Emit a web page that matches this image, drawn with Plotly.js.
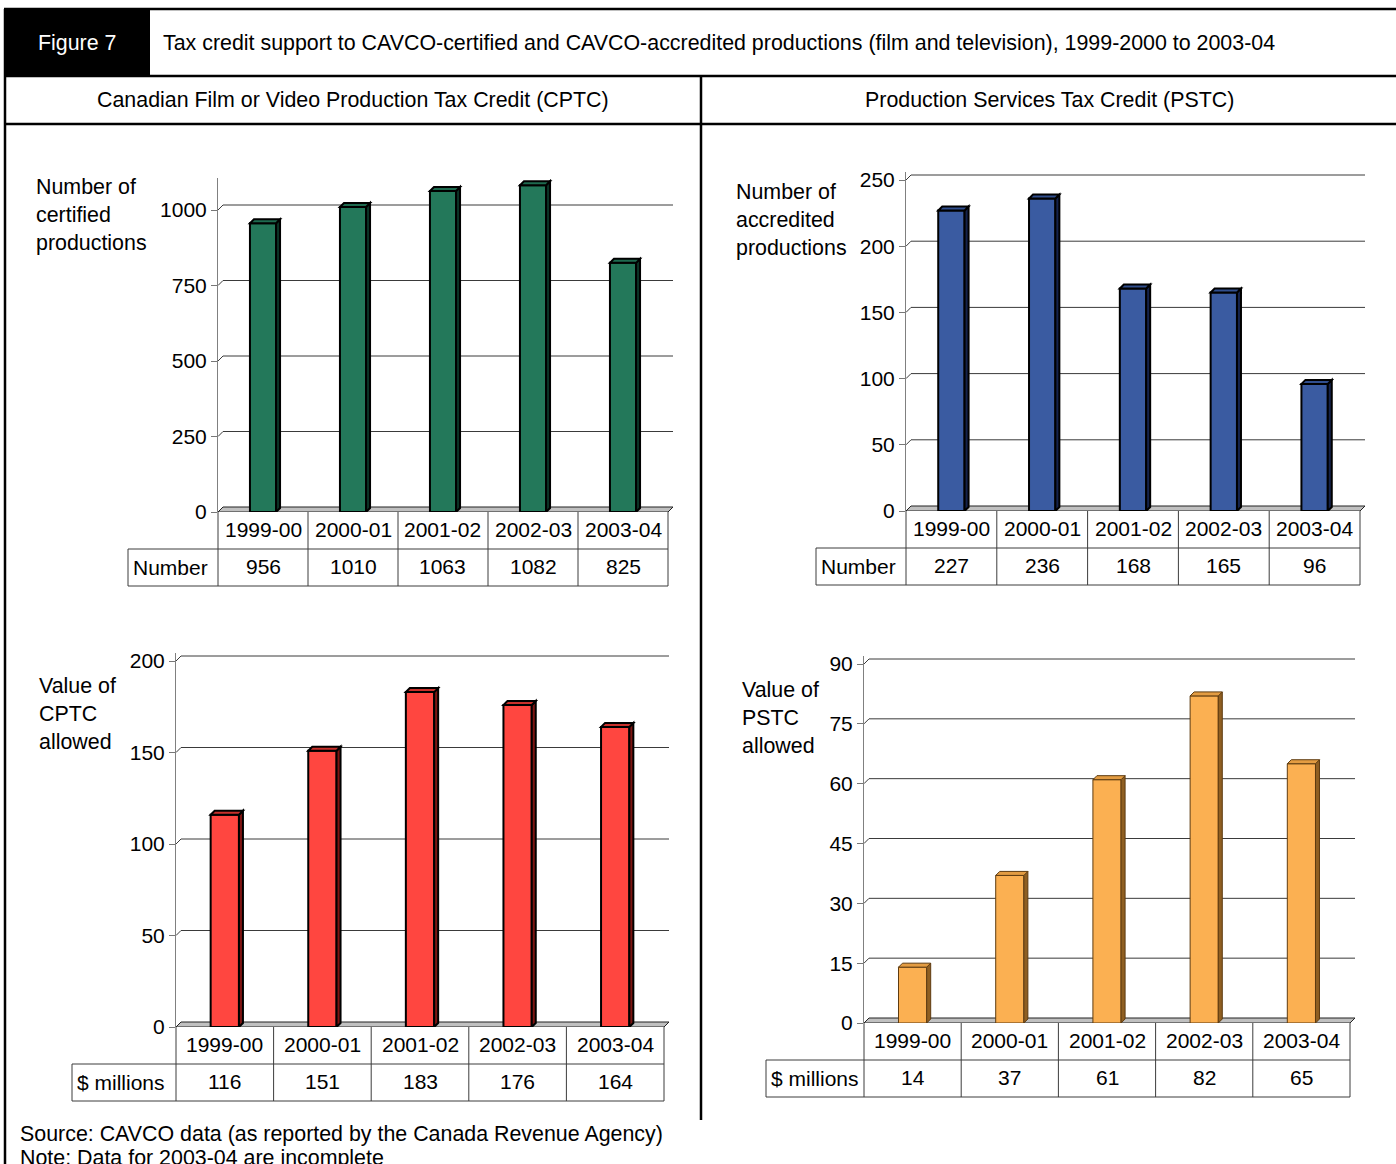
<!DOCTYPE html>
<html>
<head>
<meta charset="utf-8">
<script src="https://cdn.plot.ly/plotly-3.0.1.min.js"></script>
<style>
  html, body { margin: 0; padding: 0; background: #fff; }
  #chart { width: 1396px; height: 1164px; }
</style>
</head>
<body>
<div id="chart"></div>
<script>
// Fiscal years shown on every panel
const categories = ['1999-00', '2000-01', '2001-02', '2002-03', '2003-04'];

// CPTC: number of certified productions
const cptcCount = [956, 1010, 1063, 1082, 825];
// PSTC: number of accredited productions
const pstcCount = [227, 236, 168, 165, 96];
// CPTC: value allowed ($ millions)
const cptcValue = [116, 151, 183, 176, 164];
// PSTC: value allowed ($ millions)
const pstcValue = [14, 37, 61, 82, 65];

// Y-axis tick labels per panel
const cptcCountTicks = [0, 250, 500, 750, 1000];
const pstcCountTicks = [0, 50, 100, 150, 200, 250];
const cptcValueTicks = [0, 50, 100, 150, 200];
const pstcValueTicks = [0, 15, 30, 45, 60, 75, 90];

const W = 1396, H = 1164;
const px = p => p / W;
const py = p => 1 - p / H;
const FONT = 'Liberation Sans, Arial, Helvetica, sans-serif';
const FS = 21;
const FS_LONG = 21.4;

// Panel geometry (pixels): zeroY / refY give the front-plane scale,
// topY is the top of the value axis.
const panels = [
  { values: cptcCount, ticks: cptcCountTicks, refVal: 1000, refY: 210,
    axisX: 218, tableR: 668, zeroY: 512, topY: 178, labelX: 128,
    rowLabel: 'Number', title: 'Number of<br>certified<br>productions', titleX: 34, titleY: 215,
    face: '#23785a', side: '#0b3326', top: '#1e6a4f', edge: '#000000', edgeW: 2 },
  { values: pstcCount, ticks: pstcCountTicks, refVal: 250, refY: 180,
    axisX: 906, tableR: 1360, zeroY: 511, topY: 172, labelX: 816,
    rowLabel: 'Number', title: 'Number of<br>accredited<br>productions', titleX: 734, titleY: 220,
    face: '#3a5ba1', side: '#15234c', top: '#314f8e', edge: '#000000', edgeW: 2 },
  { values: cptcValue, ticks: cptcValueTicks, refVal: 200, refY: 661,
    axisX: 176, tableR: 664, zeroY: 1027, topY: 653, labelX: 72,
    rowLabel: '$ millions', title: 'Value of<br>CPTC<br>allowed', titleX: 37, titleY: 714,
    face: '#ff4640', side: '#7e1512', top: '#c9302b', edge: '#000000', edgeW: 2 },
  { values: pstcValue, ticks: pstcValueTicks, refVal: 90, refY: 664,
    axisX: 864, tableR: 1350, zeroY: 1023, topY: 656, labelX: 766,
    rowLabel: '$ millions', title: 'Value of<br>PSTC<br>allowed', titleX: 740, titleY: 718,
    face: '#fbb052', side: '#8f5f22', top: '#e39c42', edge: '#5e3b10', edgeW: 1 }
];

const ROW_H = 37;
const BAR_DEPTH = 4;    // 3-D depth of bars, pixels
const WALL_DEPTH = 5;   // offset of back wall (gridlines) and floor, pixels
const HALF_BAR = 0.145; // half bar width, category units

const data = [];
const shapes = [];
const annotations = [];
const layout = {
  width: W, height: H,
  margin: { l: 0, r: 0, t: 0, b: 0 },
  paper_bgcolor: '#ffffff', plot_bgcolor: 'rgba(0,0,0,0)',
  showlegend: false,
  font: { family: FONT, size: FS, color: '#000' },
  shapes: shapes, annotations: annotations
};

const line = (x0, y0, x1, y1, w, c) => shapes.push({
  type: 'line', xref: 'paper', yref: 'paper',
  x0: px(x0), y0: py(y0), x1: px(x1), y1: py(y1),
  line: { color: c || '#000', width: w }
});
const text = (t, x, y, anchor, color, size) => annotations.push({
  text: t, xref: 'paper', yref: 'paper', x: px(x), y: py(y),
  xanchor: anchor || 'center', yanchor: 'middle', showarrow: false, align: 'left',
  font: { family: FONT, size: size || FS, color: color || '#000' }
});

panels.forEach((p, k) => {
  const n = k === 0 ? '' : String(k + 1);
  const xr = 'x' + n, yr = 'y' + n;
  const colW = (p.tableR - p.axisX) / categories.length;
  const pxPerY = (p.zeroY - p.refY) / p.refVal;
  const ymax = (p.zeroY - p.topY) / pxPerY;
  const bdx = BAR_DEPTH / colW, bdy = BAR_DEPTH / pxPerY;
  const wdx = WALL_DEPTH / colW, wdy = WALL_DEPTH / pxPerY;
  const xl = -0.5, xe = categories.length - 0.5;

  layout['xaxis' + n] = {
    domain: [px(p.axisX), px(p.tableR + WALL_DEPTH)], anchor: yr,
    type: 'category', categoryarray: categories, categoryorder: 'array',
    range: [xl, xe + wdx],
    showticklabels: false, showgrid: false, zeroline: false, showline: false, ticks: '',
    fixedrange: true
  };
  layout['yaxis' + n] = {
    domain: [py(p.zeroY), py(p.topY)], anchor: xr,
    range: [0, ymax], tickmode: 'array', tickvals: p.ticks, ticktext: p.ticks.map(String),
    ticks: 'outside', ticklen: 6, tickcolor: '#777', tickwidth: 1,
    showline: true, linecolor: '#808080', linewidth: 1,
    showgrid: false, zeroline: false,
    tickfont: { family: FONT, size: FS, color: '#000' }, fixedrange: true
  };

  // back-wall gridlines with their short connectors from the axis
  p.ticks.forEach(t => {
    if (t === 0) return;
    shapes.push({
      type: 'path', xref: xr, yref: yr, layer: 'below',
      path: `M ${xl},${t} L ${xl + wdx},${t + wdy} L ${xe + wdx},${t + wdy}`,
      line: { color: '#3a3a3a', width: 1 }
    });
  });

  // floor of the 3-D plot
  shapes.push({
    type: 'path', xref: xr, yref: yr, layer: 'below',
    path: `M ${xl},0 L ${xe},0 L ${xe + wdx},${wdy} L ${xl + wdx},${wdy} Z`,
    fillcolor: '#c0c0c0', line: { color: '#222', width: 1 }
  });

  // front faces of the bars
  data.push({
    type: 'bar', x: categories, y: p.values, xaxis: xr, yaxis: yr,
    width: HALF_BAR * 2,
    marker: { color: p.face, line: { color: p.edge, width: p.edgeW } },
    hoverinfo: 'skip'
  });

  // side and top faces of each bar
  p.values.forEach((v, i) => {
    const a = i - HALF_BAR, b = i + HALF_BAR;
    shapes.push({
      type: 'path', xref: xr, yref: yr, layer: 'above',
      path: `M ${b},0 L ${b + bdx},${bdy} L ${b + bdx},${v + bdy} L ${b},${v} Z`,
      fillcolor: p.side, line: { color: p.edge, width: p.edgeW }
    });
    shapes.push({
      type: 'path', xref: xr, yref: yr, layer: 'above',
      path: `M ${a},${v} L ${b},${v} L ${b + bdx},${v + bdy} L ${a + bdx},${v + bdy} Z`,
      fillcolor: p.top, line: { color: p.edge, width: p.edgeW }
    });
  });

  // data table under the plot
  const r1 = p.zeroY + ROW_H, r2 = p.zeroY + 2 * ROW_H;
  const tc = '#3c3c3c';
  line(p.labelX, r1, p.tableR, r1, 1, tc);
  line(p.labelX, r2, p.tableR, r2, 1, tc);
  line(p.labelX, r1, p.labelX, r2, 1, tc);
  for (let c = 0; c <= categories.length; c++) {
    const xx = p.axisX + c * colW;
    line(xx, p.zeroY, xx, r2, 1, tc);
  }
  categories.forEach((cat, i) => {
    const cx = p.axisX + (i + 0.5) * colW;
    text(cat, cx, p.zeroY + ROW_H / 2 - 1);
    text(String(p.values[i]), cx, r1 + ROW_H / 2 - 1);
  });
  text(p.rowLabel, p.labelX + 3, r1 + ROW_H / 2, 'left');

  // panel axis caption
  text(p.title, p.titleX, p.titleY, 'left', '#000', FS_LONG);
});

// Figure header and frame
shapes.push({ type: 'rect', xref: 'paper', yref: 'paper',
  x0: px(4), x1: px(150), y0: py(76), y1: py(9),
  fillcolor: '#000', line: { width: 0 } });
line(4, 9, W, 9, 2.5);
line(4, 76, W, 76, 2.5);
line(4, 124, W, 124, 2.5);
line(5, 9, 5, H, 2.5);
line(701, 76, 701, 1120, 2.5);

text('Figure 7', 36, 43, 'left', '#fff', FS_LONG);
text('Tax credit support to CAVCO-certified and CAVCO-accredited productions (film and television), 1999-2000 to 2003-04', 161, 43, 'left', '#000', FS_LONG);
text('Canadian Film or Video Production Tax Credit (CPTC)', 353, 100, 'center', '#000', FS_LONG);
text('Production Services Tax Credit (PSTC)', 1049, 100, 'center', '#000', FS_LONG);
text('Source: CAVCO data (as reported by the Canada Revenue Agency)', 18, 1134, 'left', '#000', FS_LONG);
text('Note: Data for 2003-04 are incomplete', 18, 1158, 'left', '#000', FS_LONG);

Plotly.newPlot('chart', data, layout, { staticPlot: true, displayModeBar: false });
</script>
</body>
</html>
